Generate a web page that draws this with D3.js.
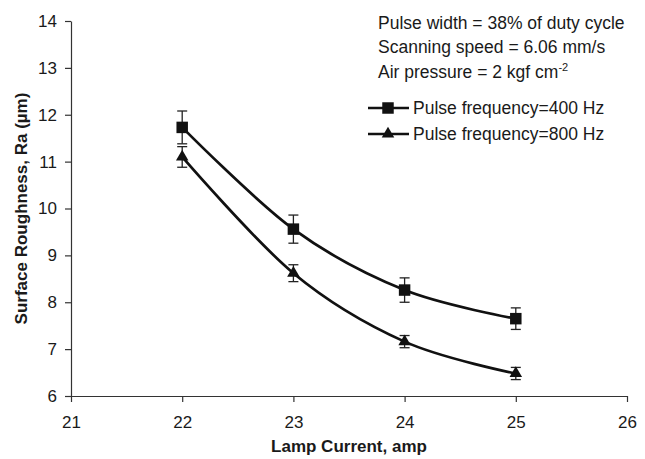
<!DOCTYPE html>
<meta charset="utf-8">
<script src="https://d3js.org/d3.v7.min.js"></script>
<style>
  body { margin: 0; background: #fff; }
  text { font-family: "Liberation Sans", Arial, sans-serif; fill: #1a1a1a; }
</style>
<body>
<div id="chart"></div>
<script>
// lamp current (amp)
var current = [22, 23, 24, 25]
// surface roughness Ra (um) and error half-widths
var ra400 = [11.73, 9.56, 8.26, 7.65]
var err400 = [0.35, 0.3, 0.26, 0.23]
var ra800 = [11.1, 8.62, 7.16, 6.48]
var err800 = [0.22, 0.18, 0.13, 0.13]
var xTicks = [21, 22, 23, 24, 25, 26]
var yTicks = [6, 7, 8, 9, 10, 11, 12, 13, 14]
var notes = ["Pulse width = 38% of duty cycle", "Scanning speed = 6.06 mm/s", "Air pressure = 2 kgf cm"]
var seriesNames = ["Pulse frequency=400 Hz", "Pulse frequency=800 Hz"]

var width = 645, height = 459
var svg = d3.select("#chart").append("svg")
  .attr("width", width)
  .attr("height", height)

var x = d3.scaleLinear().domain([21, 26]).range([71, 627])
var y = d3.scaleLinear().domain([6, 14]).range([396, 21])

// axes
svg.append("g")
  .attr("transform", "translate(0," + y(6) + ")")
  .call(d3.axisBottom(x).tickValues(xTicks).tickFormat(d3.format("d")).tickSize(6).tickSizeOuter(0).tickPadding(14))
svg.append("g")
  .attr("transform", "translate(" + x(21) + ",0)")
  .call(d3.axisLeft(y).tickValues(yTicks).tickSize(6).tickSizeOuter(0).tickPadding(8))
svg.selectAll(".domain, .tick line").attr("stroke", "#333").attr("stroke-width", 1.2)
svg.selectAll(".tick text").style("font-size", "17px").attr("fill", "#1a1a1a")

// axis titles
svg.append("text")
  .attr("x", (x(21) + x(26)) / 2)
  .attr("y", 452)
  .attr("text-anchor", "middle")
  .style("font-size", "17px")
  .style("font-weight", "bold")
  .text("Lamp Current, amp")
svg.append("text")
  .attr("transform", "translate(27," + ((y(6) + y(14)) / 2) + ") rotate(-90)")
  .attr("text-anchor", "middle")
  .style("font-size", "17px")
  .style("font-weight", "bold")
  .text("Surface Roughness, Ra (\u00b5m)")

var series = [
  {vals: ra400, errs: err400, shape: d3.symbolSquare, size: 132},
  {vals: ra800, errs: err800, shape: d3.symbolTriangle, size: 68}
]

var line = d3.line()
  .x(function(d) { return x(d[0]) })
  .y(function(d) { return y(d[1]) })
  .curve(d3.curveCardinal.tension(0))

series.forEach(function(s) {
  var pts = current.map(function(c, i) { return [c, s.vals[i], s.errs[i]] })
  svg.append("path")
    .datum(pts)
    .attr("d", line)
    .attr("fill", "none")
    .attr("stroke", "#111")
    .attr("stroke-width", 2.7)

  var eb = svg.selectAll(null).data(pts).enter().append("g")
  eb.append("line")
    .attr("x1", function(d) { return x(d[0]) })
    .attr("x2", function(d) { return x(d[0]) })
    .attr("y1", function(d) { return y(d[1] + d[2]) })
    .attr("y2", function(d) { return y(d[1] - d[2]) })
  eb.append("line")
    .attr("x1", function(d) { return x(d[0]) - 5 })
    .attr("x2", function(d) { return x(d[0]) + 5 })
    .attr("y1", function(d) { return y(d[1] + d[2]) })
    .attr("y2", function(d) { return y(d[1] + d[2]) })
  eb.append("line")
    .attr("x1", function(d) { return x(d[0]) - 5 })
    .attr("x2", function(d) { return x(d[0]) + 5 })
    .attr("y1", function(d) { return y(d[1] - d[2]) })
    .attr("y2", function(d) { return y(d[1] - d[2]) })
  eb.selectAll("line").attr("stroke", "#222").attr("stroke-width", 1.3)

  svg.selectAll(null).data(pts).enter().append("path")
    .attr("d", d3.symbol().type(s.shape).size(s.size))
    .attr("transform", function(d) { return "translate(" + x(d[0]) + "," + y(d[1]) + ")" })
    .attr("fill", "#111")
})

// notes
svg.selectAll(null).data(notes).enter().append("text")
  .attr("x", 378)
  .attr("y", function(d, i) { return 28.5 + i * 24.5 })
  .style("font-size", "17.5px")
  .text(function(d) { return d })
  .filter(function(d, i) { return i == 2 })
  .append("tspan")
    .attr("dy", -7)
    .style("font-size", "11px")
    .text("-2")

// legend
series.forEach(function(s, i) {
  var ly = 108 + i * 26
  svg.append("line")
    .attr("x1", 368).attr("x2", 409)
    .attr("y1", ly).attr("y2", ly)
    .attr("stroke", "#111").attr("stroke-width", 2.7)
  svg.append("path")
    .attr("d", d3.symbol().type(s.shape).size(s.size))
    .attr("transform", "translate(388," + ly + ")")
    .attr("fill", "#111")
  svg.append("text")
    .attr("x", 413)
    .attr("y", ly + 6)
    .style("font-size", "17.5px")
    .text(seriesNames[i])
})
</script>
</body>
